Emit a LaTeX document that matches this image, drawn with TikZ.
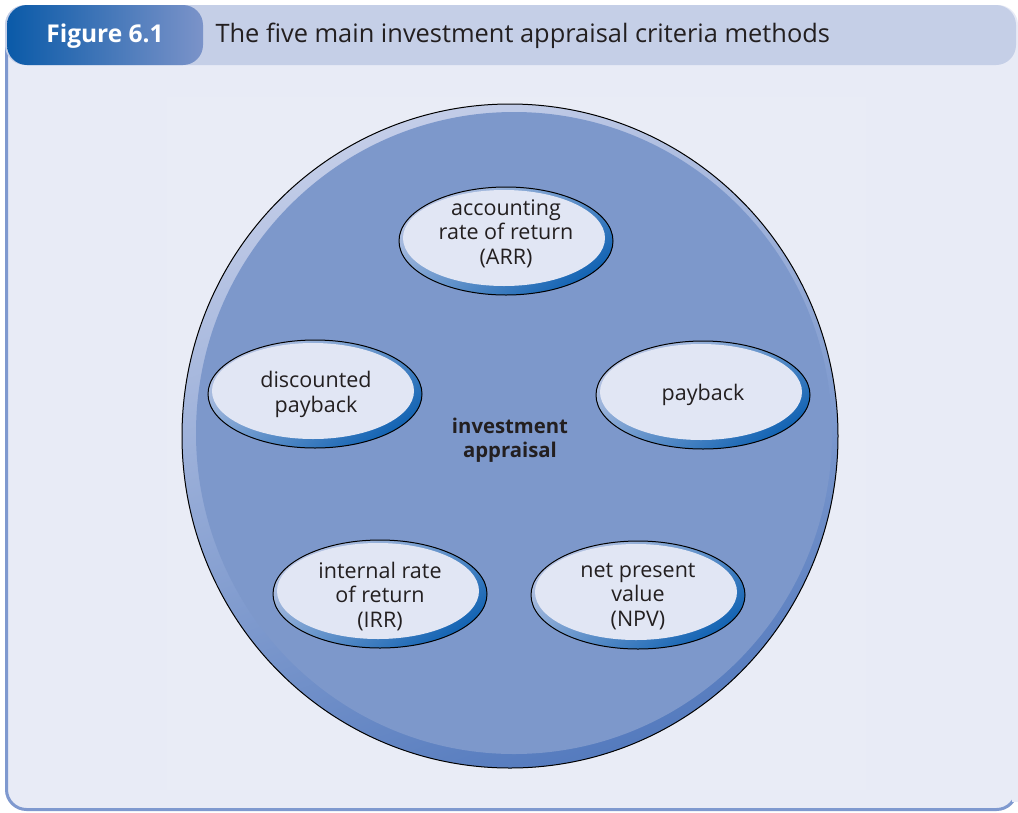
\documentclass[tikz,border=0pt]{standalone}
\usepackage{fontspec}
\setmainfont{Open Sans}
\definecolor{bgc}{HTML}{E8EBF6}
\definecolor{barc}{HTML}{C5CFE7}
\definecolor{figdark}{HTML}{0A5AA8}
\definecolor{figlight}{HTML}{7B93C9}
\definecolor{borderc}{HTML}{7F99CF}
\definecolor{bigfill}{HTML}{7D98CB}
\definecolor{bigrimlight}{HTML}{C3CDE8}
\definecolor{bigrimdark}{HTML}{557BBE}
\definecolor{ellfill}{HTML}{E1E6F4}
\definecolor{ellrimlight}{HTML}{B7C4E3}
\definecolor{ellrimdark}{HTML}{1263B3}
\definecolor{txt}{HTML}{231F20}
\begin{document}
\begin{tikzpicture}[x=1pt,y=-1pt,
  lbl/.style={align=center,text=txt,font=\fontsize{21.5}{24.5}\selectfont}]
\useasboundingbox (0,0) rectangle (1018,812);
\clip (0,0) rectangle (1018,812);
\fill[white] (0,0) rectangle (1018,812);
% panel
\fill[bgc, rounded corners=20pt] (5,5) rectangle (1018,810);
\draw[borderc, line width=3pt, rounded corners=20pt] (6.5,40) -- (6.5,809.5) -- (1016.5,809.5) -- (1016.5,700);
\fill[bgc] (1012,600) rectangle (1030,802);
\fill[barc, rounded corners=20pt] (5,5) rectangle (1016,65);
\fill[white,opacity=0.07] (167,97) rectangle (866,790);
% figure tab
\shade[left color=figdark, right color=figlight, rounded corners=20pt] (7,5) rectangle (203,65);
\node[text=white, font=\fontsize{24.5}{28}\selectfont\bfseries, anchor=center] (fig) at (105,36) {Figure 6.1};
\node[text=txt, font=\fontsize{25.4}{29}\selectfont, anchor=west] (title) at (212,36) {The five main investment appraisal criteria methods};
% big circle
\shade[top color=bigrimlight, bottom color=bigrimdark, shading angle=20] (510,436) ellipse [x radius=328, y radius=332];
\fill[bigfill] (514,433) ellipse [x radius=318, y radius=321];
\draw[black, line width=1pt] (510,436) ellipse [x radius=328, y radius=332];
\node[text=txt, align=center, font=\fontsize{20.3}{24}\selectfont\bfseries] (center) at (510,440) {investment\\appraisal};
% ellipses
\foreach \cx/\cy in {506/241, 315/394, 703/395, 380/594, 638/595}{
  \shade[top color=ellrimlight, bottom color=ellrimdark, shading angle=35] (\cx,\cy) ellipse [x radius=107, y radius=54];
  \fill[ellfill] (\cx-2,\cy-3) ellipse [x radius=101, y radius=48];
  \draw[black, line width=1pt] (\cx,\cy) ellipse [x radius=107, y radius=54];
}
\node[lbl] (arr) at (506,233.5) {accounting\\rate of return\\(ARR)};
\node[lbl] (dpb) at (316,394.5) {discounted\\payback};
\node[lbl] (pb) at (703,394.5) {payback};
\node[lbl] (irr) at (380,596.5) {internal rate\\of return\\(IRR)};
\node[lbl] (npv) at (638,596.5) {net present\\value\\(NPV)};
\end{tikzpicture}
\end{document}
